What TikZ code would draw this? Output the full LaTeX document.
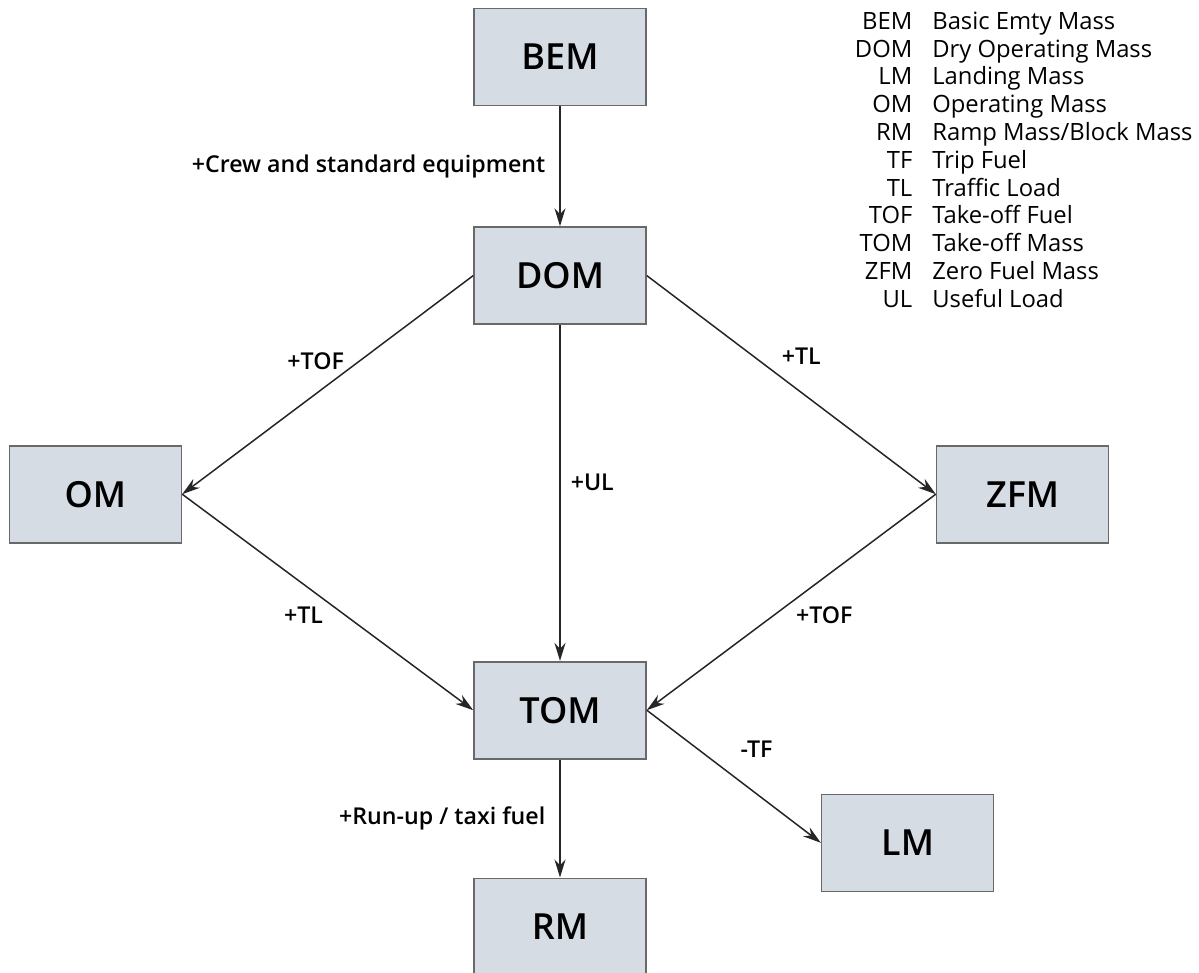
\documentclass[tikz,border=0pt]{standalone}
\usepackage{fontspec}
\setmainfont{Open Sans}
\newfontfamily\semibold{Open Sans Semibold}
\usetikzlibrary{positioning, arrows.meta}
\definecolor{massfill}{RGB}{214, 220, 228}
\definecolor{massline}{RGB}{105, 105, 105}

\begin{document}
\begin{tikzpicture} [
      x=0.5pt, y=-0.5pt,
      node distance=60pt and 145pt,
      >={Stealth[length=9pt, width=5.5pt]},
      mass/.style={rectangle, draw=massline, line width=0.8pt, fill=massfill, minimum width=86pt, minimum height=48.5pt, inner sep=0pt, font=\semibold\fontsize{18}{22}\selectfont},
      flow/.style={->, line width=0.75pt, draw=black!85},
      note/.style={midway, inner sep=2pt, font=\semibold\fontsize{11.6}{13}\selectfont},
      legend/.style={anchor=north east, inner sep=0pt, font=\fontsize{11.9}{13.9}\selectfont}
  ]
  \useasboundingbox (0,0) rectangle (1199,973);
  \node[mass] (bem) at (560,57) {BEM};
  \node[mass, below=of bem] (dom) {DOM};
  \node[mass, below left=60pt and 145.5pt of dom] (om) {OM};
  \node[mass, below right=60pt and 144.5pt of dom] (zfm) {ZFM};
  \node[mass, below=168pt of dom] (tom) {TOM};
  \node[mass, below=59pt of tom] (rm) {RM};
  \node[mass, below right=17pt and 87pt of tom] (lm) {LM};
  \node[legend] (key) at (1193,9.5) {%
    \begin{tabular}{@{}r@{\hspace{10pt}}l@{}}
      BEM & Basic Emty Mass\\
      DOM & Dry Operating Mass\\
      LM & Landing Mass\\
      OM & Operating Mass\\
      RM & Ramp Mass/Block Mass\\
      TF & Trip Fuel\\
      TL & Traffic Load\\
      TOF & Take-off Fuel\\
      TOM & Take-off Mass\\
      ZFM & Zero Fuel Mass\\
      UL & Useful Load
    \end{tabular}};

  \draw[flow] (bem) -- node[note, left=5pt] {+Crew and standard equipment} (dom);
  \draw[flow] (dom.west) -- node[note, above=5pt, xshift=-6pt] {+TOF} (om.east);
  \draw[flow] (dom.east) -- node[note, above=5pt, xshift=5pt, yshift=3pt] {+TL} (zfm.west);
  \draw[flow] (dom) -- node[note, right=3pt, pos=0.47] {+UL} (tom);
  \draw[flow] (om.east) -- node[note, below left] {+TL} (tom.west);
  \draw[flow] (zfm.west) -- node[note, below right] {+TOF} (tom.east);
  \draw[flow] (tom.east) -- node[note, above right=7pt and 1pt] {-TF} (lm.west);
  \draw[flow] (tom) -- node[note, left=5pt] {+Run-up / taxi fuel} (rm);
\end{tikzpicture}
\end{document}
